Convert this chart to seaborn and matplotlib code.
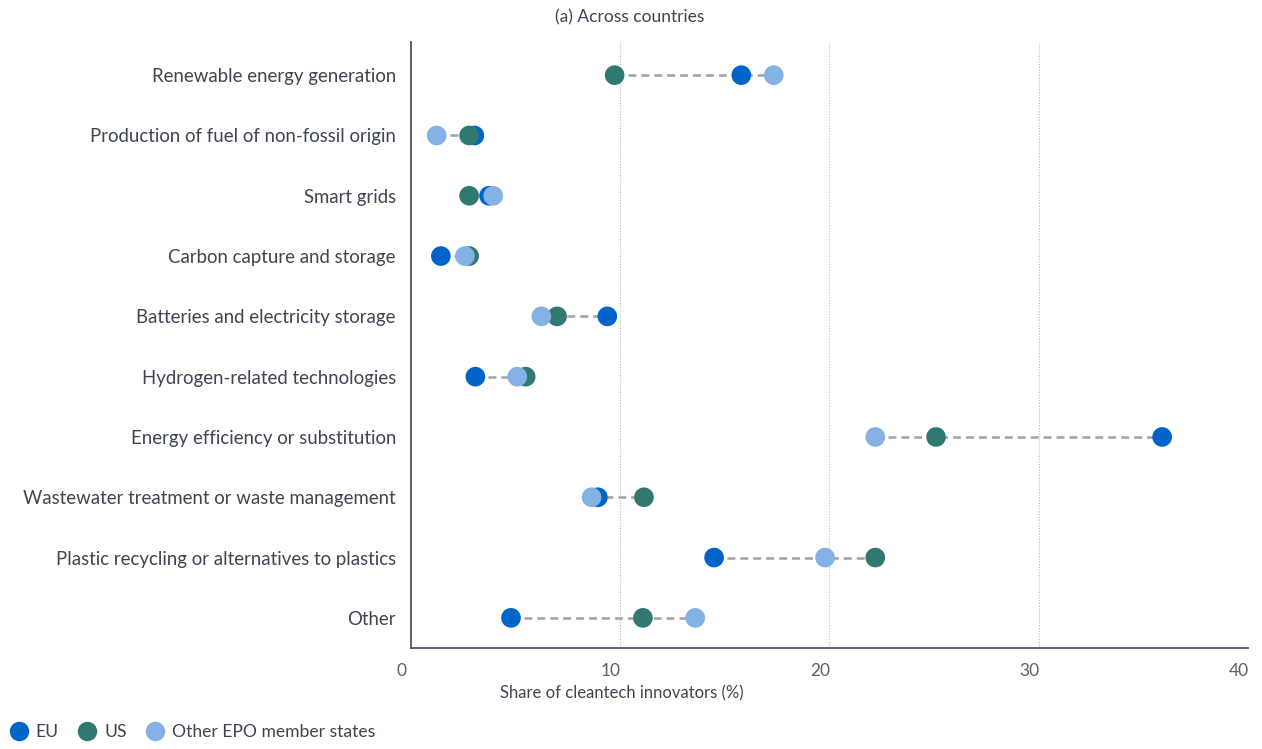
import matplotlib
matplotlib.use("Agg")
import matplotlib.pyplot as plt
import matplotlib.transforms as mtransforms
import seaborn as sns
import pandas as pd
import numpy as np
from matplotlib.lines import Line2D

categories = [
    "Renewable energy generation",
    "Production of fuel of non-fossil origin",
    "Smart grids",
    "Carbon capture and storage",
    "Batteries and electricity storage",
    "Hydrogen-related technologies",
    "Energy efficiency or substitution",
    "Wastewater treatment or waste management",
    "Plastic recycling or alternatives to plastics",
    "Other",
]
eu = [15.8, 3.05, 3.75, 1.45, 9.4, 3.1, 35.9, 8.95, 14.5, 4.8]
us = [9.75, 2.8, 2.8, 2.8, 7.0, 5.5, 25.1, 11.15, 22.2, 11.1]
other = [17.35, 1.25, 3.95, 2.6, 6.25, 5.1, 22.2, 8.65, 19.8, 13.6]

series_names = ["EU", "US", "Other EPO member states"]
colors = {"EU": "#0064c8", "US": "#317873", "Other EPO member states": "#84b2e4"}

xticks = [0, 10, 20, 30, 40]
title = "(a) Across countries"
xlabel = "Share of cleantech innovators (%)"

df = pd.DataFrame({"category": categories * 3,
                   "group": ["EU"] * 10 + ["US"] * 10 + ["Other EPO member states"] * 10,
                   "value": eu + us + other})

sns.set_style("white")
plt.rcParams["font.family"] = ["Lato", "DejaVu Sans"]
text_color = "#3d4552"

fig = plt.figure(figsize=(12.62, 7.49), dpi=100)
ax = fig.add_axes([410.5 / 1262, 1 - 648 / 749, (1248 - 410.5) / 1262, (648 - 42) / 749])

ypos = {c: i for i, c in enumerate(categories)}
df["y"] = df["category"].map(ypos)

# dashed connectors
for c in categories:
    vals = df.loc[df["category"] == c, "value"]
    ax.plot([vals.min(), vals.max()], [ypos[c], ypos[c]], color="#a3a6ad",
            lw=1.9, linestyle=(0, (3.0, 1.9)), zorder=1, solid_capstyle="butt")

sns.scatterplot(data=df, x="value", y="y", hue="group", hue_order=series_names,
                palette=colors, s=200, linewidth=0, ax=ax, zorder=3, legend=False)

ax.set_xlim(0, 40)
ax.set_ylim(9.5, -0.55)
ax.set_yticks(range(len(categories)))
ax.set_yticklabels(categories)
ax.set_xticks(xticks)
ax.set_xticklabels([str(t) for t in xticks])
ax.set_xlabel("")
ax.set_ylabel("")

# minor ticks between categories on y
ax.set_yticks(np.arange(0.5, len(categories) - 0.5, 1), minor=True)
ax.tick_params(axis="y", which="major", length=0, pad=10.5, labelsize=13.4, labelcolor=text_color)
ax.tick_params(axis="y", which="minor", length=4, color="#9aa0a8", width=0.8)
ax.tick_params(axis="x", which="major", length=6, color="#b0b4ba", width=0.8,
               labelsize=12.5, labelcolor="#5a616c", pad=4.5)

offset = mtransforms.ScaledTranslation(-0.09, 0, fig.dpi_scale_trans)
for lbl in ax.get_xticklabels():
    lbl.set_transform(lbl.get_transform() + offset)

ax.grid(axis="x", linestyle=(0, (1, 1.5)), color="#b5b8bd", lw=0.8)
ax.set_axisbelow(True)
for s in ["top", "right"]:
    ax.spines[s].set_visible(False)
for s in ["left", "bottom"]:
    ax.spines[s].set_color("#4f5663")
    ax.spines[s].set_linewidth(1.3)

fig.text(630 / 1262, 1 - 17 / 749, title, ha="center", va="center", fontsize=12.5, color=text_color)
fig.text(622 / 1262, 1 - 693 / 749, xlabel, ha="center", va="center", fontsize=12, color=text_color)

handles = [Line2D([0], [0], marker="o", linestyle="", markersize=14,
                  markerfacecolor=colors[n], markeredgewidth=0) for n in series_names]
leg = fig.legend(handles, series_names, loc="lower left", bbox_to_anchor=(-0.001, 0.0),
                 ncol=3, frameon=False, fontsize=12.6, handletextpad=0.3, columnspacing=1.0,
                 borderaxespad=0.1, handlelength=1.3)
for t in leg.get_texts():
    t.set_color(text_color)

fig.savefig("out.png", dpi=100)
